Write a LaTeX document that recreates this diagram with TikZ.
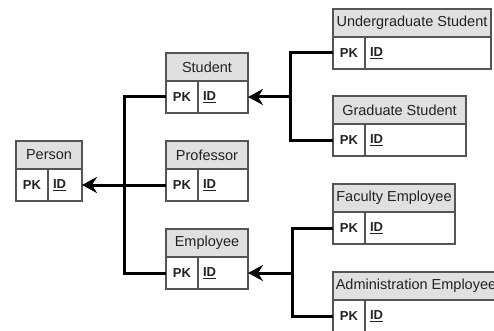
\documentclass[tikz,border=0pt]{standalone}
\usepackage{fontspec}
\setmainfont{Liberation Sans}
\usetikzlibrary{arrows.meta}
\definecolor{hdrfill}{HTML}{E0E0E0}
\definecolor{bordc}{HTML}{555555}
\definecolor{txtc}{HTML}{222222}
\tikzset{
  hdr/.style={draw=bordc, line width=1.3pt, fill=hdrfill, minimum height=28pt, inner sep=0pt, outer sep=0pt, text=txtc, font=\fontsize{14.5}{16}\selectfont},
  pkcell/.style={draw=bordc, line width=1.3pt, fill=white, minimum width=32pt, minimum height=32pt, inner sep=0pt, outer sep=0pt, text=txtc, font=\fontsize{13}{15}\selectfont\bfseries},
  idcell/.style={draw=bordc, line width=1.3pt, fill=white, minimum height=32pt, inner xsep=5pt, inner ysep=0pt, outer sep=0pt, text=txtc, align=left, font=\fontsize{13}{15}\selectfont\bfseries},
  conn/.style={line width=3pt, black},
  arr/.style={conn, -{Stealth[length=15pt, width=16pt, inset=5pt]}}
}
\newcommand\entity[5]{%
  \node[hdr, minimum width=#4pt, anchor=north west] (#1) at (#2,#3) {#5};
  \node[pkcell, anchor=north west] (#1pk) at (#1.south west) {PK};
  \node[idcell, minimum width=#4pt-32pt, anchor=north west, text width=#4pt-42pt] (#1id) at (#1pk.north east) {\underline{ID}};
}
\begin{document}
\begin{tikzpicture}[x=1pt, y=-1pt]
\clip (0,0) rectangle (494,331);
\fill[white] (0,0) rectangle (494,331);
\entity{person}{16}{141}{66}{Person}
\entity{student}{166}{53}{82}{Student}
\entity{professor}{166}{141}{82}{Professor}
\entity{employee}{166}{229}{82}{Employee}
\entity{ug}{333}{9}{158}{Undergraduate Student}
\entity{grad}{333}{96}{133}{Graduate Student}
\entity{fac}{333}{184}{122}{Faculty Employee}
\entity{adm}{333}{272}{166}{Administration Employee}
\coordinate (j1) at (124,0);
\coordinate (j2) at (290,0);
\coordinate (j3) at (292,0);
% Person hierarchy
\draw[conn] (studentpk.west) -- (studentpk.west -| j1) -- (employeepk.west -| j1) -- (employeepk.west);
\draw[arr] (professorpk.west) -- (personid.east);
% Student hierarchy
\draw[conn] (ugpk.west) -- (ugpk.west -| j2) -- (gradpk.west -| j2) -- (gradpk.west);
\draw[arr] (studentid.east -| j2) -- (studentid.east);
% Employee hierarchy
\draw[conn] (facpk.west) -- (facpk.west -| j3) -- (admpk.west -| j3) -- (admpk.west);
\draw[arr] (employeeid.east -| j3) -- (employeeid.east);
\end{tikzpicture}
\end{document}
